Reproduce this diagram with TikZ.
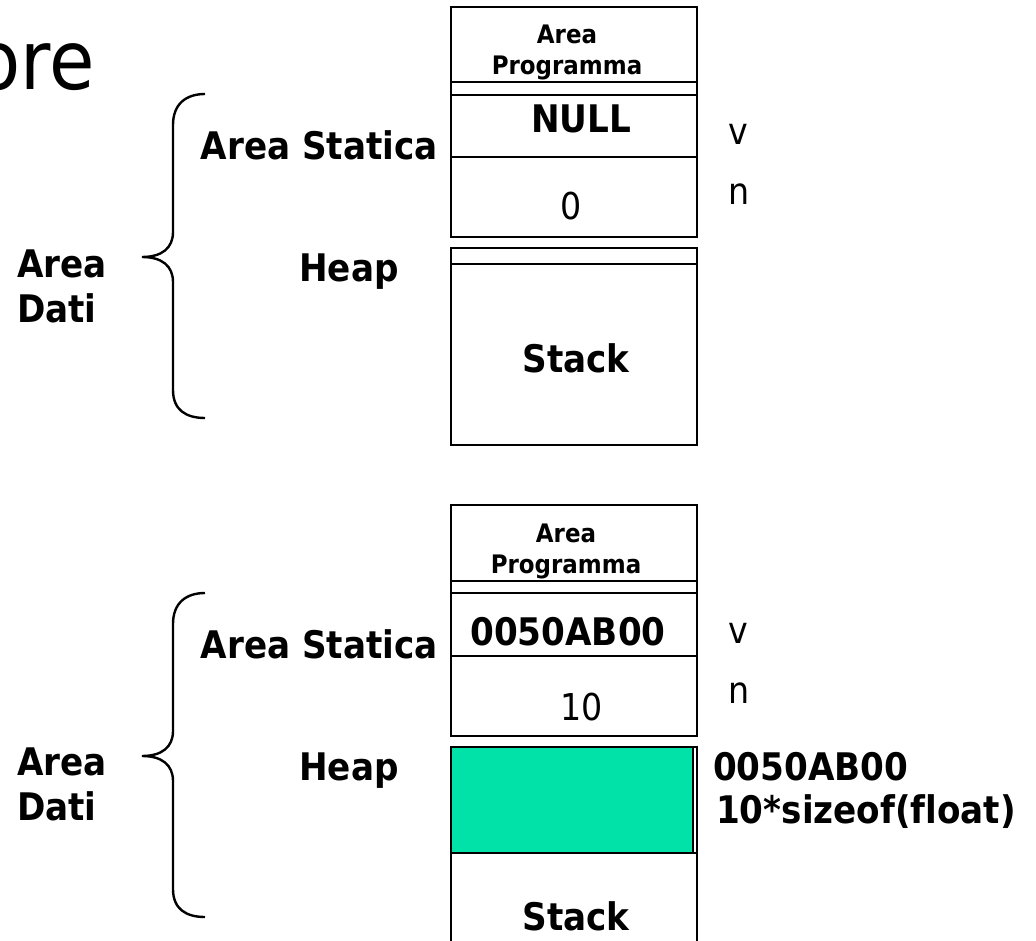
\documentclass[tikz,border=0pt]{standalone}
\usepackage{fontspec}
\setmainfont{DejaVu Sans Condensed}[Ligatures=NoCommon]
\usetikzlibrary{positioning}
\definecolor{heapgreen}{RGB}{0,226,168}
\tikzset{
  memline/.style={line width=2.4pt},
  boldlbl/.style={font=\bfseries\fontsize{38}{45}\selectfont, inner sep=0pt},
  smalllbl/.style={font=\bfseries\fontsize{25.5}{31}\selectfont, inner sep=0pt, align=center},
  plainlbl/.style={font=\fontsize{37}{45}\selectfont, inner sep=0pt}
}
\begin{document}
\begin{tikzpicture}[x=1pt,y=-1pt]
	\useasboundingbox (0,0) rectangle (1036,941);
	\node[plainlbl, font=\fontsize{82}{90}\selectfont, anchor=base east] (title) at (95,90) {ore};

	\draw[memline] (451,7) rectangle (697,237);
	\draw[memline] (451,82) -- (697,82) (451,95) -- (697,95) (451,157) -- (697,157);
	\draw[memline] (451,248) rectangle (697,445);
	\draw[memline] (451,264) -- (697,264);
	\node[smalllbl] (progA) at (567,52) {Area\\Programma};
	\node[boldlbl, anchor=base] (nullV) at (581,133) {NULL};
	\node[plainlbl, anchor=base] (zeroN) at (571,220) {0};
	\node[boldlbl, anchor=base] (stackA) at (576,372) {Stack};
	\node[plainlbl, anchor=base west] (vA) at (728,145) {v};
	\node[plainlbl, anchor=base west] (nA) at (728,205) {n};
	\node[boldlbl, anchor=base east] (statA) at (438,160) {Area Statica};
	\node[boldlbl, anchor=base] (heapA) at (349,282) {Heap};
	\node[boldlbl, anchor=west, align=left] (datiA) at (17,286) {Area\\Dati};
	\draw[memline] (205,94) .. controls (186,94) and (173,104) .. (173,125) -- (173,232)
		.. controls (173,248) and (162,257) .. (142,257) .. controls (162,257) and (173,266) .. (173,282)
		-- (173,390) .. controls (173,410) and (186,418) .. (205,418);

	\draw[memline] (451,505) rectangle (697,736);
	\draw[memline] (451,581) -- (697,581) (451,593) -- (697,593) (451,656) -- (697,656);
	\draw[memline] (451,747) rectangle (697,960);
	\draw[memline, fill=heapgreen] (451,747) rectangle (693,853);
	\draw[memline] (451,853) -- (697,853);
	\node[smalllbl] (progB) at (566,551) {Area\\Programma};
	\node[boldlbl, anchor=base] (addrV) at (568,645) {0050AB00};
	\node[plainlbl, anchor=base] (tenN) at (582,720) {10};
	\node[boldlbl, anchor=base] (stackB) at (576,930) {Stack};
	\node[plainlbl, anchor=base west] (vB) at (728,643) {v};
	\node[plainlbl, anchor=base west] (nB) at (728,703) {n};
	\node[boldlbl, anchor=base east] (statB) at (438,658) {Area Statica};
	\node[boldlbl, anchor=base] (heapB) at (349,780) {Heap};
	\node[boldlbl, anchor=west, align=left] (datiB) at (17,784) {Area\\Dati};
	\node[boldlbl, anchor=base west] (addrH) at (713,780) {0050AB00};
	\node[boldlbl, anchor=base west] (sizeH) at (716,823) {10*sizeof(float)};
	\draw[memline] (205,593) .. controls (186,593) and (173,603) .. (173,624) -- (173,731)
		.. controls (173,747) and (162,756) .. (142,756) .. controls (162,756) and (173,765) .. (173,781)
		-- (173,889) .. controls (173,909) and (186,917) .. (205,917);
\end{tikzpicture}
\end{document}
